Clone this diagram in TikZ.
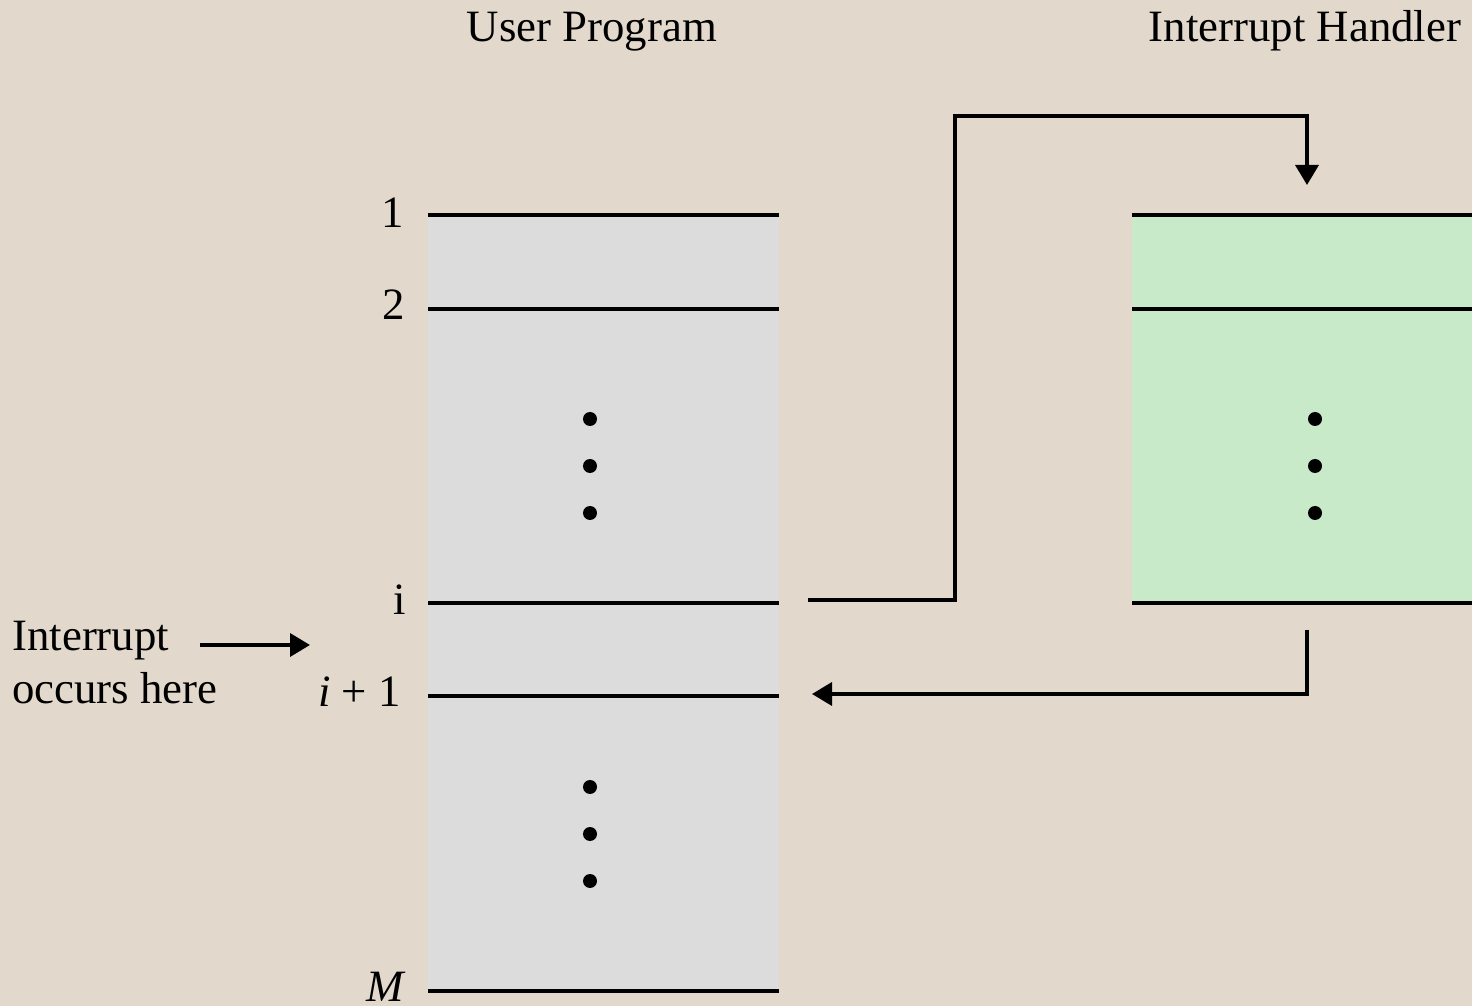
\documentclass[tikz,border=0pt]{standalone}
\usepackage{fontspec}
\setmainfont{Liberation Serif}
\usetikzlibrary{arrows.meta, calc}
\definecolor{paper}{RGB}{226,217,204}
\definecolor{progfill}{RGB}{220,220,220}
\definecolor{handfill}{RGB}{201,234,201}
\tikzstyle{rule} = [line width = 2pt]
\tikzstyle{flow} = [line width = 2pt, -{Triangle[length=0.4cm, width=0.46cm]}]
\tikzstyle{lbl} = [anchor=base east, inner sep=0pt]
\newcommand{\vdotsat}[2]{\foreach \k in {0,1,2} {\fill (#1,{#2+47*\k}) circle (0.14cm);}}
\begin{document}
\begin{tikzpicture}[x=0.02cm, y=-0.02cm, font=\fontsize{25.5}{30.7}\selectfont]

		% Background
		\fill[paper] (0,0) rectangle (1472,1006);
		\useasboundingbox (0,0) rectangle (1472,1006);

		% Coordinates
		\coordinate (irqa) at (200,645);
		\coordinate (irqb) at (310,645);
		\coordinate (jmp) at (808,600);
		\coordinate (jmpup) at (955,116);
		\coordinate (hin) at (1307,185);
		\coordinate (hout) at (1307,630);
		\coordinate (ret) at (812,694);

		% Boxes
		\fill[progfill] (428,215) rectangle (779,991);
		\fill[handfill] (1132,215) rectangle (1472,603);
		\foreach \y in {215,309,603,696,991}
			\draw[rule] (428,\y) -- (779,\y);
		\foreach \y in {215,309,603}
			\draw[rule] (1132,\y) -- (1472,\y);

		% Dots
		\vdotsat{590}{419}
		\vdotsat{590}{787}
		\vdotsat{1315}{419}

		% Nodes
		\node (prog) [anchor=base] at (592,42) {User Program};
		\node (hand) [anchor=base] at (1305,42) {Interrupt Handler};
		\node (l1) [lbl] at (404,228) {1};
		\node (l2) [lbl] at (405,320) {2};
		\node (li) [lbl] at (406,615) {i};
		\node (lii) [lbl] at (401,707) {\textit{i} + 1};
		\node (lm) [lbl] at (406,1001) {\textit{M}};
		\node (irq) [anchor=base west, align=left, inner sep=0pt] at (12,704) {Interrupt\\occurs here};

		% Arrows
		\draw[flow] (irqa) -- (irqb);
		\draw[flow] (jmp) -| (jmpup) -| (hin);
		\draw[flow] (hout) |- (ret);
	\end{tikzpicture}
\end{document}
